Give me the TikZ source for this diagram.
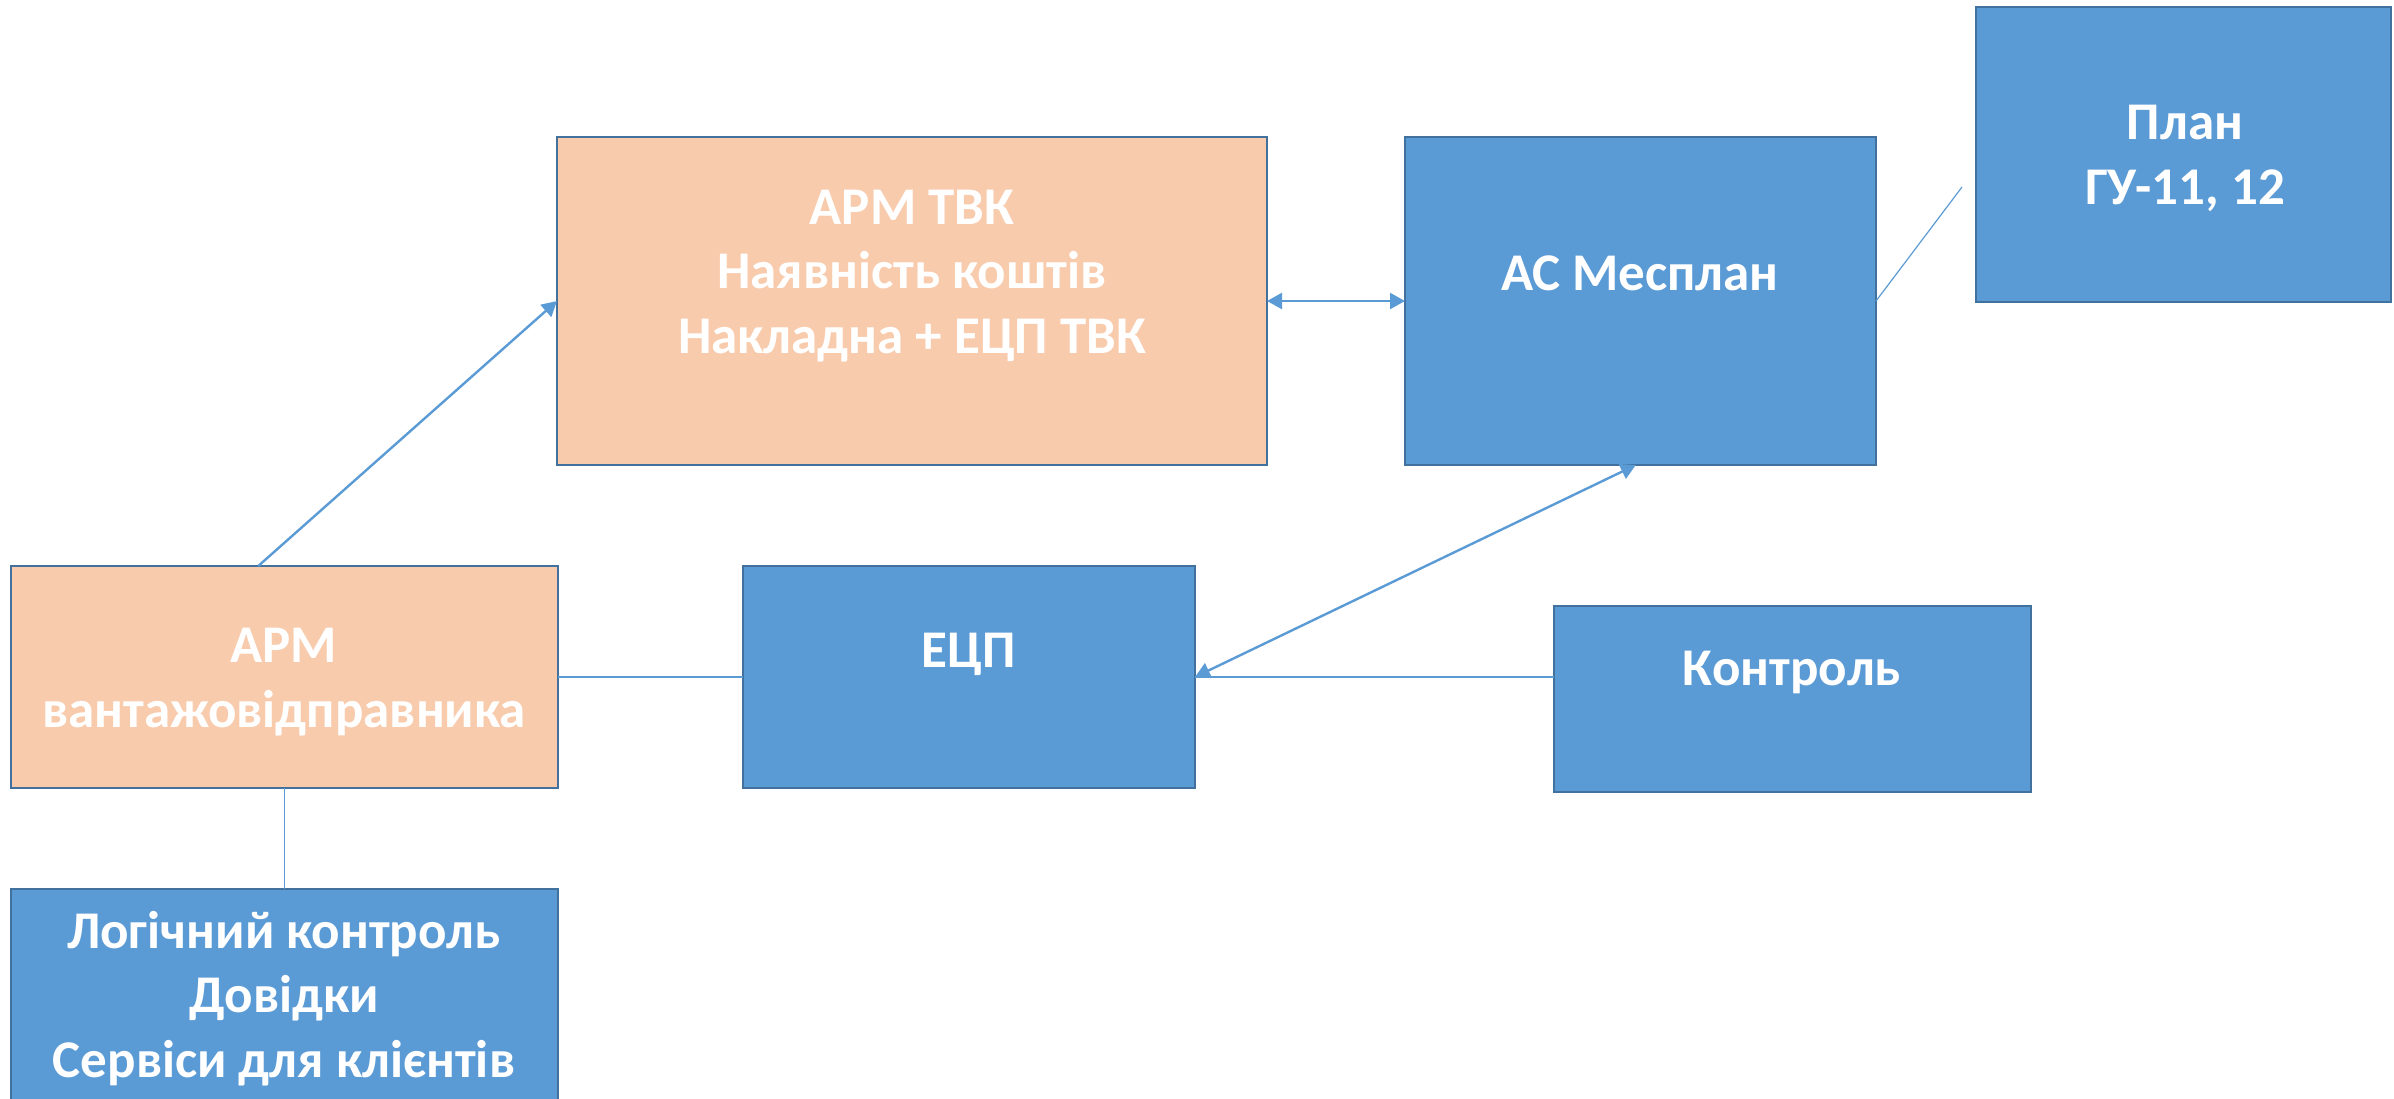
\documentclass[tikz,border=0pt]{standalone}
\usepackage{fontspec}
\setmainfont{Carlito}
\usetikzlibrary{arrows.meta,calc}
\definecolor{peach}{HTML}{F8CBAD}
\definecolor{sky}{HTML}{5B9BD5}
\definecolor{edgeblue}{HTML}{41719C}
\begin{document}
\begin{tikzpicture}[x=1pt,y=-1pt,
  box/.style={draw=edgeblue,line width=2.2pt,anchor=north west,inner sep=0pt,outer sep=0pt},
  orangebox/.style={box,fill=peach},
  bluebox/.style={box,fill=sky},
  lbl/.style={anchor=base,align=center,text=white,font=\fontsize{53}{64.5}\selectfont\bfseries,inner sep=0pt},
  conn/.style={draw=sky,line width=1.2pt},
  tip/.tip={Triangle[length=15pt,width=16pt]},
  arr/.style={draw=sky,line width=2.4pt,-tip},
  darr/.style={draw=sky,line width=2.4pt,tip-tip}]
\useasboundingbox (0,0) rectangle (2394,1098);
\clip (0,0) rectangle (2394,1098);
% boxes
\node[orangebox,minimum width=710pt,minimum height=328pt] (tvk) at (557,137) {};
\node[bluebox,minimum width=471pt,minimum height=328pt] (mes) at (1405,137) {};
\node[bluebox,minimum width=415pt,minimum height=295pt] (plan) at (1976,7) {};
\node[orangebox,minimum width=547pt,minimum height=222pt] (arm) at (11,566) {};
\node[bluebox,minimum width=452pt,minimum height=222pt] (ecp) at (743,566) {};
\node[bluebox,minimum width=477pt,minimum height=186pt] (kon) at (1554,606) {};
\node[bluebox,minimum width=547pt,minimum height=240pt] (log) at (11,889) {};
% texts (anchored at the baseline of the last line)
\node[lbl] (ttvk) at (912,353) {АРМ ТВК\\Наявність коштів\\Накладна + ЕЦП ТВК};
\node[lbl] (tmes) at (1640,290) {АС Месплан};
\node[lbl] (tplan) at (2185,204) {План\\ГУ-11, 12};
\node[lbl] (tarm) at (284,727) {АРМ\\вантажовідправника};
\node[lbl] (tecp) at (969,667) {ЕЦП};
\node[lbl] (tkon) at (1792,685) {Контроль};
\node[lbl] (tlog) at (284,1077) {Логічний контроль\\Довідки\\Сервіси для клієнтів};
% connectors
\coordinate (planend) at (1962,187);
\draw[arr] ($(arm.north west)!0.452!(arm.north east)$) -- (tvk.west);
\draw[darr] (tvk.east) -- (mes.west);
\draw[conn] (mes.east) -- (planend);
\draw[darr] (ecp.east) -- ($(mes.south west)!0.49!(mes.south east)$);
\draw[conn] (arm.east) -- (ecp.west);
\draw[conn] (kon.west |- ecp.east) -- (ecp.east);
\draw[conn] (arm.south) -- (log.north);
\end{tikzpicture}
\end{document}
